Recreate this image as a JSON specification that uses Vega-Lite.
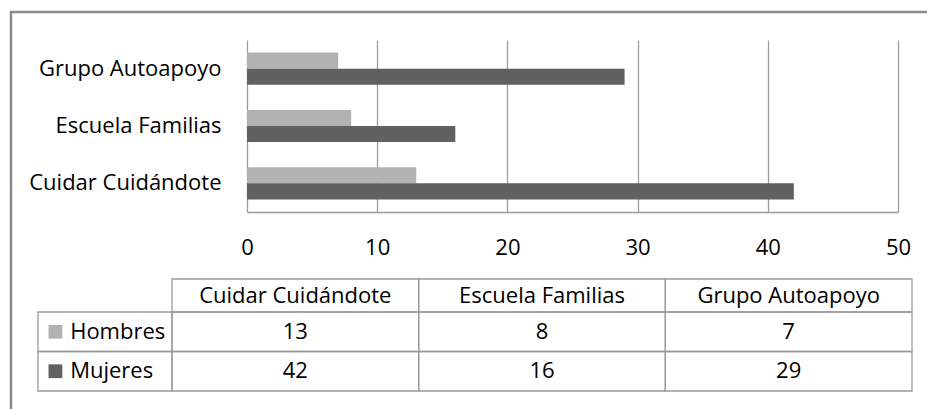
{
  "$schema": "https://vega.github.io/schema/vega-lite/v6.json",
  "width": 931,
  "height": 412,
  "autosize": {"type": "none"},
  "padding": {"left": 11, "top": 12, "right": -15, "bottom": -15},
  "background": "#ffffff",
  "config": {
    "font": "Open Sans",
    "view": {"stroke": "#8a8a8a", "strokeWidth": 2.5},
    "axis": {"labelFont": "Open Sans", "labelFontSize": 22, "labelColor": "#000000", "title": null, "labelLimit": 0},
    "text": {"font": "Open Sans", "fontSize": 22, "color": "#000000"}
  },
  "data": {
    "values": [
      {"category": "Cuidar Cuidándote", "series": "Hombres", "value": 13},
      {"category": "Cuidar Cuidándote", "series": "Mujeres", "value": 42},
      {"category": "Escuela Familias", "series": "Hombres", "value": 8},
      {"category": "Escuela Familias", "series": "Mujeres", "value": 16},
      {"category": "Grupo Autoapoyo", "series": "Hombres", "value": 7},
      {"category": "Grupo Autoapoyo", "series": "Mujeres", "value": 29}
    ]
  },
  "resolve": {"scale": {"x": "independent", "y": "independent"}},
  "layer": [
    {
      "mark": {"type": "bar"},
      "encoding": {
        "x": {
          "field": "value", "type": "quantitative",
          "scale": {"domain": [0, 50], "range": [236, 887], "nice": false, "zero": true},
          "axis": {"orient": "bottom", "offset": -212, "values": [0, 10, 20, 30, 40, 50], "grid": false, "ticks": true, "tickSize": -172, "tickColor": "#9c9c9c", "tickWidth": 1.3, "domainColor": "#9c9c9c", "domainWidth": 1.3, "labelPadding": 197, "labelFlush": false, "labelOverlap": false, "title": null}
        },
        "y": {
          "field": "category", "type": "nominal",
          "sort": ["Grupo Autoapoyo", "Escuela Familias", "Cuidar Cuidándote"],
          "scale": {"range": [28, 200], "paddingInner": 0.44, "paddingOuter": 0.22},
          "axis": {"orient": "left", "offset": -236, "domain": false, "ticks": false, "grid": false, "labelPadding": 26, "labelLimit": 0, "title": null}
        },
        "yOffset": {"field": "series", "type": "nominal", "sort": ["Hombres", "Mujeres"]},
        "color": {
          "field": "series", "type": "nominal",
          "scale": {"domain": ["Hombres", "Mujeres"], "range": ["#b2b2b2", "#616161"]},
          "legend": null
        }
      }
    },
    {
      "encoding": {
        "x": {
          "field": "category", "type": "nominal",
          "sort": ["Cuidar Cuidándote", "Escuela Familias", "Grupo Autoapoyo"],
          "scale": {"range": [161, 901], "paddingInner": 0, "paddingOuter": 0},
          "axis": null
        },
        "y": {
          "field": "series", "type": "nominal",
          "sort": ["Hombres", "Mujeres"],
          "scale": {"range": [300, 379], "paddingInner": 0, "paddingOuter": 0},
          "axis": null
        }
      },
      "layer": [
        {"mark": {"type": "rect", "fill": "#ffffff", "fillOpacity": 0, "stroke": "#9a9a9a", "strokeWidth": 1.3}},
        {"mark": {"type": "text", "fontSize": 22, "color": "#000000"}, "encoding": {"text": {"field": "value", "type": "quantitative"}}}
      ]
    },
    {
      "transform": [{"filter": "datum.series === 'Hombres'"}],
      "encoding": {
        "x": {
          "field": "category", "type": "nominal",
          "sort": ["Cuidar Cuidándote", "Escuela Familias", "Grupo Autoapoyo"],
          "scale": {"range": [161, 901], "paddingInner": 0, "paddingOuter": 0},
          "axis": null
        },
        "y": {
          "field": "series", "type": "nominal",
          "scale": {"range": [267, 300], "paddingInner": 0, "paddingOuter": 0},
          "axis": null
        }
      },
      "layer": [
        {"mark": {"type": "rect", "fill": "#ffffff", "fillOpacity": 0, "stroke": "#9a9a9a", "strokeWidth": 1.3}},
        {"mark": {"type": "text", "fontSize": 22, "color": "#000000"}, "encoding": {"text": {"field": "category", "type": "nominal"}}}
      ]
    },
    {
      "transform": [{"filter": "datum.category === 'Cuidar Cuidándote'"}],
      "encoding": {
        "x": {
          "field": "category", "type": "nominal",
          "scale": {"range": [27, 161], "paddingInner": 0, "paddingOuter": 0},
          "axis": null
        },
        "y": {
          "field": "series", "type": "nominal",
          "sort": ["Hombres", "Mujeres"],
          "scale": {"range": [300, 379], "paddingInner": 0, "paddingOuter": 0},
          "axis": null
        }
      },
      "layer": [
        {"mark": {"type": "rect", "fill": "#ffffff", "fillOpacity": 0, "stroke": "#9a9a9a", "strokeWidth": 1.3}},
        {
          "mark": {"type": "point", "shape": "square", "filled": true, "opacity": 1, "size": 190},
          "encoding": {
            "x": {"field": "category", "type": "nominal", "bandPosition": 0.13, "scale": {"range": [27, 161], "paddingInner": 0, "paddingOuter": 0}, "axis": null},
            "color": {"field": "series", "type": "nominal", "scale": {"domain": ["Hombres", "Mujeres"], "range": ["#b2b2b2", "#616161"]}, "legend": null}
          }
        },
        {
          "mark": {"type": "text", "align": "left", "fontSize": 22, "color": "#000000"},
          "encoding": {
            "x": {"field": "category", "type": "nominal", "bandPosition": 0.24, "scale": {"range": [27, 161], "paddingInner": 0, "paddingOuter": 0}, "axis": null},
            "text": {"field": "series", "type": "nominal"}
          }
        }
      ]
    }
  ]
}
